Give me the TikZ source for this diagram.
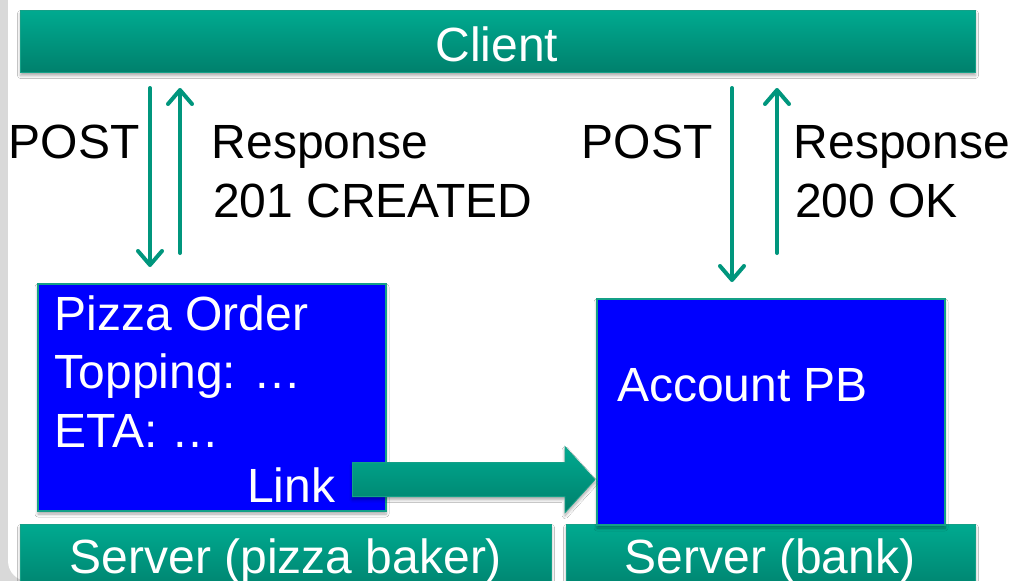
\documentclass[tikz,border=0pt]{standalone}
\usepackage{fontspec}
\setmainfont{Liberation Sans}
\usetikzlibrary{arrows.meta,shadows.blur,calc}
\definecolor{tealtop}{RGB}{0,170,144}
\definecolor{tealbot}{RGB}{0,128,108}
\definecolor{tealline}{RGB}{20,160,135}
\definecolor{arrteal}{RGB}{0,150,125}
\definecolor{bgrey}{RGB}{217,217,217}
\definecolor{boxblue}{RGB}{0,0,255}
\begin{document}
\begin{tikzpicture}[x=1pt,y=-1pt,
  font=\fontsize{48}{56}\selectfont,
  shad/.style={blur shadow={shadow xshift=0pt,shadow yshift=-3pt,shadow blur steps=6,shadow opacity=35,shadow blur radius=3pt}},
  bar/.style={draw=tealline, line width=1pt, top color=tealtop, bottom color=tealbot, shad, inner sep=0pt, anchor=north west},
  bluebox/.style={draw=tealline, line width=2pt, fill=boxblue, shad, inner sep=0pt, anchor=north west},
  wtxt/.style={text=white, anchor=base west, inner sep=0pt},
  btxt/.style={text=black, anchor=base west, inner sep=0pt},
  arr/.style={draw=arrteal, line width=4pt, line cap=round, -{Straight Barb[length=14pt,width=24pt,line cap=round,line join=round]}}
]
\useasboundingbox (0,0) rectangle (1015,581);
\begin{scope}
\clip (0,0) rectangle (1015,581);
\fill[bgrey] (0,0) rectangle (1015,581);
\fill[white, rounded corners=20pt] (8,-40) rectangle (1060,581);

% bars
\node[bar, minimum width=955pt, minimum height=62pt] (client) at (20,10) {};
\node[text=white, inner sep=0pt, anchor=base] (clienttxt) at (497,61) {Client};
\node[bar, minimum width=531pt, minimum height=70pt] (srvA) at (20,524) {};
\node[bar, minimum width=409pt, minimum height=70pt] (srvB) at (566,524) {};
\node[text=white, inner sep=0pt, anchor=base] (srvAtxt) at (286,573) {Server (pizza baker)};
\node[text=white, inner sep=0pt, anchor=base] (srvBtxt) at (770,573) {Server (bank)};

% blue boxes
\node[bluebox, minimum width=348pt, minimum height=227pt] (order) at (37,283) {};
\node[bluebox, minimum width=348pt, minimum height=226pt] (acct) at (596,298) {};
\node[wtxt] (t1) at (54.5,330) {Pizza Order};
\node[wtxt] (t2) at (54.5,388) {Topping: …};
\node[wtxt] (t3) at (54.5,447) {ETA: …};
\node[wtxt] (link) at (247,502) {Link};
\node[wtxt] (acctxt) at (617,401) {Account PB};

% labels
\node[btxt] (post1) at (8.5,158) {POST};
\node[btxt] (resp1) at (211.5,158) {Response};
\node[btxt] (code1) at (213,217) {201 CREATED};
\node[btxt] (post2) at (581.5,158) {POST};
\node[btxt] (resp2) at (793.5,158) {Response};
\node[btxt] (code2) at (795,217) {200 OK};

% vertical arrows
\coordinate (xa) at (150,0);
\coordinate (xb) at (180,0);
\coordinate (xc) at (732,0);
\coordinate (xd) at (777,0);
\draw[arr] ([yshift=-15pt]client.south -| xa) -- ([yshift=16pt]order.north -| xa);
\draw[arr] ([yshift=30pt]order.north -| xb) -- ([yshift=-15pt]client.south -| xb);
\draw[arr] ([yshift=-15pt]client.south -| xc) -- ([yshift=16pt]acct.north -| xc);
\draw[arr] ([yshift=45pt]acct.north -| xd) -- ([yshift=-15pt]client.south -| xd);

% block arrow from Link to account
\coordinate (ls) at ($(link.east)+(17,-5)$);
\coordinate (tip) at ($(acct.west |- ls)+(-1,0)$);
\shade[top color=tealtop, bottom color=tealbot, draw=tealline, line width=0.8pt, shad]
  ($(ls)+(0,-17)$) -- ($(tip)+(-30,-17)$) -- ($(tip)+(-30,-33)$) -- (tip)
  -- ($(tip)+(-30,33)$) -- ($(tip)+(-30,17)$) -- ($(ls)+(0,17)$) -- cycle;
\end{scope}
\end{tikzpicture}
\end{document}
